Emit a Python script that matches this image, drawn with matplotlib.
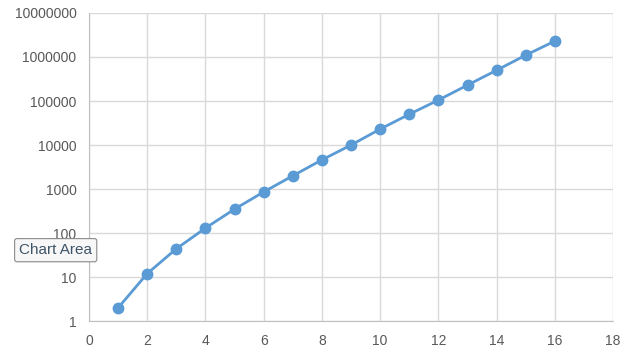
import matplotlib
matplotlib.use('Agg')
import matplotlib.pyplot as plt
from matplotlib.ticker import FixedLocator, FuncFormatter

x_values = [1, 2, 3, 4, 5, 6, 7, 8, 9, 10, 11, 12, 13, 14, 15, 16]
y_values = [2, 12, 44, 130, 350, 860, 2000, 4600, 10000, 23000,
            50000, 105000, 230000, 500000, 1100000, 2300000]
x_ticks = [0, 2, 4, 6, 8, 10, 12, 14, 16, 18]
y_ticks = [1, 10, 100, 1000, 10000, 100000, 1000000, 10000000]

plt.rcParams['font.family'] = ['Liberation Sans', 'DejaVu Sans']

fig = plt.figure(figsize=(6.4, 3.6), dpi=100)
ax = fig.add_axes([0.139, 0.108, 0.819, 0.856])

ax.plot(x_values, y_values, color='#5b9bd5', linewidth=2,
        marker='o', markersize=7.5, zorder=3)

ax.set_yscale('log')
ax.set_xlim(0, 18)
ax.set_ylim(1, 10000000)
ax.xaxis.set_major_locator(FixedLocator(x_ticks))
ax.yaxis.set_major_locator(FixedLocator(y_ticks))
ax.yaxis.set_minor_locator(FixedLocator([]))
ax.yaxis.set_major_formatter(FuncFormatter(lambda v, p: '%d' % round(v)))

ax.grid(True, color='#d9d9d9', linewidth=1)
ax.set_axisbelow(True)
for s in ['top', 'right']:
    ax.spines[s].set_visible(False)
for s in ['left', 'bottom']:
    ax.spines[s].set_color('#bfbfbf')
ax.tick_params(length=0, labelsize=10, labelcolor='#595959', pad=9)

# Excel tooltip left on the screenshot
fig.text(0.03, 0.305, 'Chart Area', fontsize=11, color='#3e5468',
         va='center', ha='left',
         bbox=dict(boxstyle='round,pad=0.3,rounding_size=0.15',
                   facecolor='#f7f7f7', edgecolor='#8a8a8a',
                   linewidth=0.8))

fig.savefig('out.png', dpi=100)
